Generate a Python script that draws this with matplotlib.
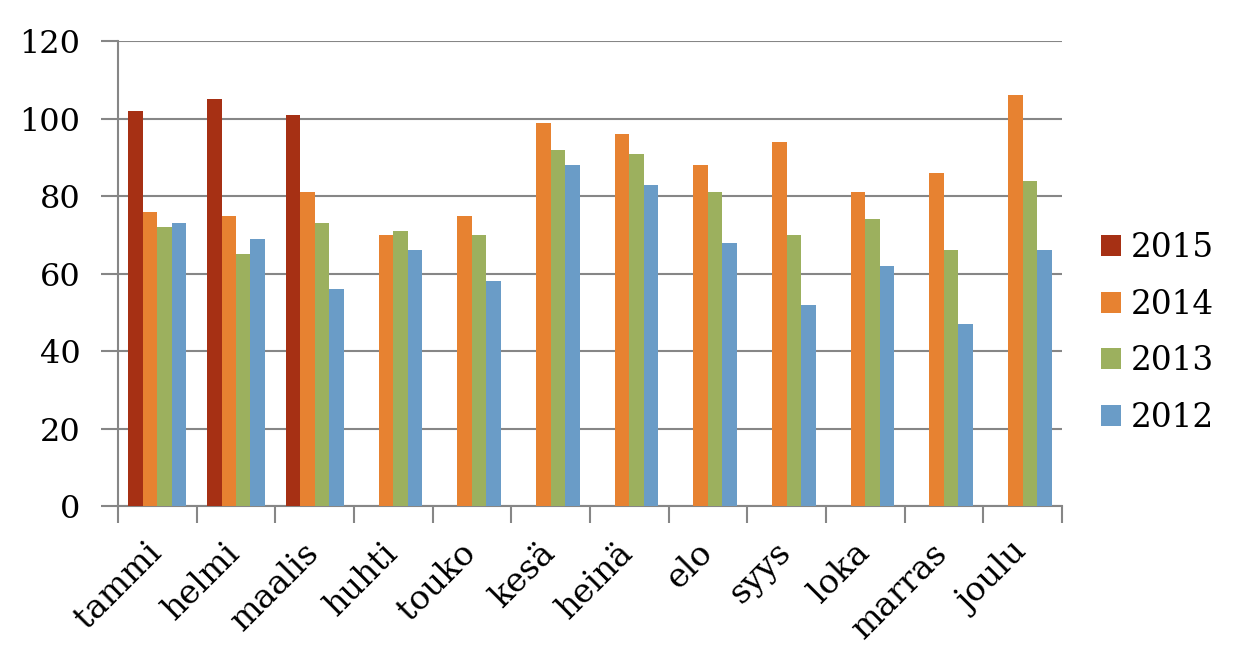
import numpy as np
from matplotlib import pyplot as plt
from matplotlib.transforms import ScaledTranslation

months = ["tammi", "helmi", "maalis", "huhti", "touko", "kesä",
          "heinä", "elo", "syys", "loka", "marras", "joulu"]

v2015 = [102, 105, 101, np.nan, np.nan, np.nan, np.nan, np.nan, np.nan, np.nan, np.nan, np.nan]
v2014 = [76, 75, 81, 70, 75, 99, 96, 88, 94, 81, 86, 106]
v2013 = [72, 65, 73, 71, 70, 92, 91, 81, 70, 74, 66, 84]
v2012 = [73, 69, 56, 66, 58, 88, 83, 68, 52, 62, 47, 66]

series = [("2015", v2015, "#a63014"), ("2014", v2014, "#e78231"),
          ("2013", v2013, "#9cb05e"), ("2012", v2012, "#6a9cc7")]

plt.rcParams['font.family'] = ['DejaVu Serif']
grid_c = "#868686"

fig = plt.figure(figsize=(12.42, 6.65), dpi=100)
ax = fig.add_axes([0.095, 0.239, 0.76, 0.699])

x = np.arange(len(months))
w = 0.184
for i, (name, vals, col) in enumerate(series):
	ax.bar(x + (i - 1.5) * w, vals, w, color=col, label=name, zorder=3)

ax.set_xlim(-0.5, len(months) - 0.5)
ax.set_ylim(0, 120)
ax.set_yticks(range(0, 121, 20))
ax.grid(axis='y', color=grid_c, linewidth=1.5, zorder=0)
ax.set_xticks(x)
ax.set_xticklabels(months, rotation=45, ha='right', va='top', rotation_mode='anchor', fontsize=24)
ax.set_xticks(np.arange(-0.5, len(months)), minor=True)
ax.tick_params(axis='x', which='major', length=0, pad=22)
ax.tick_params(axis='x', which='minor', length=12, width=1.5, color=grid_c)
ax.tick_params(axis='y', length=12, width=1.5, color=grid_c, labelsize=23, pad=15)

# nudge the rotated month labels a little left
shift = ScaledTranslation(-12 / 100, 0, fig.dpi_scale_trans)
for lab in ax.get_xticklabels():
	lab.set_transform(lab.get_transform() + shift)

for s in ['top', 'right']:
	ax.spines[s].set_visible(False)
for s in ['left', 'bottom']:
	ax.spines[s].set_color(grid_c)
	ax.spines[s].set_linewidth(1.5)

ax.legend(loc='center left', bbox_to_anchor=(1.041, 0.372), frameon=False, fontsize=23.5,
	borderpad=0, borderaxespad=0,
	handlelength=0.61, handleheight=0.61, handletextpad=0.3, labelspacing=0.75)

fig.savefig("out.png")
